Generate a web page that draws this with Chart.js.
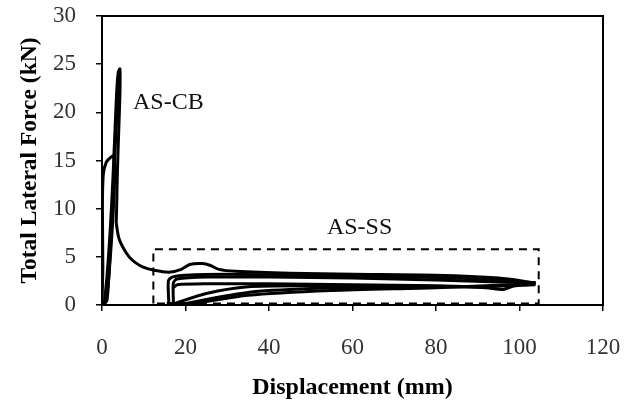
<!DOCTYPE html>
<html>
<head>
<meta charset="utf-8">
<script src="https://cdn.jsdelivr.net/npm/chart.js@4.4.1/dist/chart.umd.min.js"></script>
<style>
  html, body { margin: 0; padding: 0; background: #fff; }
  #wrap { width: 624px; height: 410px; }
</style>
</head>
<body>
<div id="wrap"><canvas id="chart"></canvas></div>
<script>
// axis ticks
const xTicks = [0, 20, 40, 60, 80, 100, 120];
const yTicks = [0, 5, 10, 15, 20, 25, 30];

// AS-CB cycles [displacement mm, force kN]
const cbCycle1 = [[0, 0], [0.2, 4], [0.1, 10], [0.3, 13.5], [1, 14.8], [2, 15.3], [2.8, 15.5], [3, 13], [2.6, 9], [2, 5], [1.3, 1.5], [0.6, 0], [0.2, 0]];
const cbCycle2 = [[0.5, 0], [1.2, 3], [2, 8], [2.6, 13], [3.1, 18], [3.5, 22], [3.9, 24.2], [4.3, 24.5], [4.3, 22], [4, 18], [3.7, 14], [3.5, 10], [3.4, 8.5]];
const cbCycle3 = [[4, 24.3], [3.6, 20], [3, 15], [2.5, 10], [1.9, 5], [1.2, 0.5], [0.3, 0]];
const cbTail = [[3.4, 8.5], [4, 7], [5, 6], [6.5, 5], [8, 4.4], [10, 3.9], [12.5, 3.6], [16, 3.4], [19, 3.7], [21, 4.2], [24, 4.3], [26, 4.1], [28, 3.7], [32, 3.5], [45, 3.3], [60, 3.2], [80, 3.1], [95, 2.8], [103.8, 2.3]];

// AS-SS cycles
const ssUpper1 = [[16, 0.2], [15.9, 2.5], [16.8, 2.9], [20, 3.1], [30, 3.2], [45, 3.1], [60, 3.0], [75, 2.9], [90, 2.7], [103.8, 2.3]];
const ssUpper2 = [[17.1, 0.2], [17.1, 2.3], [18, 2.7], [25, 2.9], [40, 2.9], [60, 2.8], [80, 2.6], [95, 2.4], [103.8, 2.3]];
const ssLower1 = [[103.8, 2.3], [98, 1.9], [96, 1.6], [92, 1.8], [80, 2.0], [60, 2.1], [40, 2.2], [25, 2.2], [18, 2.1], [17.1, 1.8]];
const ssLower2 = [[17, 0.1], [25, 1.2], [35, 1.9], [50, 2.0], [70, 2.0], [90, 1.9], [103.8, 2.2]];
const ssLower3 = [[19, 0.1], [35, 1.3], [50, 1.7], [70, 1.9], [90, 1.9], [103.8, 2.1]];
const ssLower4 = [[20, 0], [35, 1.0], [55, 1.5], [80, 1.8], [103.8, 2.2]];
const ssBase = [[15.5, 0.15], [21, 0.15]];

// dashed box round the AS-SS group
const boxX = [12.3, 104.6];
const boxY = [0.15, 5.8];

const labels = [
  { text: 'AS-CB', x: 15.9, y: 21 },
  { text: 'AS-SS', x: 61.7, y: 8 },
];

const toPts = (arr) => arr.map(([x, y]) => ({ x, y }));

const curves = [cbCycle1, cbCycle2, cbCycle3, cbTail, ssUpper1, ssUpper2, ssLower1, ssLower2, ssLower3, ssLower4, ssBase];

const datasets = curves.map((c) => ({
  data: toPts(c),
  showLine: true,
  borderColor: '#000',
  borderWidth: 3,
  pointRadius: 0,
  tension: 0.25,
  fill: false,
}));

datasets.push({
  data: toPts([[boxX[0], boxY[0]], [boxX[0], boxY[1]], [boxX[1], boxY[1]], [boxX[1], boxY[0]], [boxX[0], boxY[0]]]),
  showLine: true,
  borderColor: '#000',
  borderWidth: 2,
  borderDash: [8, 6],
  pointRadius: 0,
  tension: 0,
  fill: false,
});

const frame = {
  id: 'frame',
  afterDatasetsDraw(chart) {
    const { ctx, chartArea: a, scales } = chart;
    ctx.save();
    ctx.strokeStyle = '#000';
    ctx.lineWidth = 2;
    ctx.strokeRect(a.left, a.top, a.right - a.left, a.bottom - a.top);
    ctx.fillStyle = '#111';
    ctx.font = '24px "Liberation Serif", "Times New Roman", serif';
    ctx.textAlign = 'center';
    ctx.textBaseline = 'middle';
    labels.forEach((l) => {
      ctx.fillText(l.text, scales.x.getPixelForValue(l.x), scales.y.getPixelForValue(l.y));
    });
    ctx.restore();
  },
};

const serif = '"Liberation Serif", "Times New Roman", serif';

new Chart(document.getElementById('chart'), {
  type: 'scatter',
  data: { datasets },
  plugins: [frame],
  options: {
    responsive: true,
    maintainAspectRatio: false,
    animation: false,
    layout: { padding: 0 },
    plugins: { legend: false, tooltip: { enabled: false } },
    scales: {
      x: {
        type: 'linear',
        min: 0,
        max: 120,
        afterBuildTicks: (s) => { s.ticks = xTicks.map((v) => ({ value: v })); },
        afterFit: (s) => { s.height = 105; s.paddingRight = 21; s.paddingLeft = 0; },
        border: { color: '#000', width: 2 },
        grid: { drawOnChartArea: false, drawTicks: true, tickLength: 6, color: '#000', lineWidth: 1.5 },
        ticks: { color: '#333', padding: 23, font: { family: serif, size: 23 } },
        title: {
          display: true,
          text: 'Displacement (mm)',
          color: '#000',
          padding: { top: 0, bottom: 8 },
          font: { family: serif, size: 24, weight: 'bold' },
        },
      },
      y: {
        type: 'linear',
        min: 0,
        max: 30,
        afterBuildTicks: (s) => { s.ticks = yTicks.map((v) => ({ value: v })); },
        afterFit: (s) => { s.width = 102; s.paddingTop = 16; s.paddingBottom = 0; },
        border: { color: '#000', width: 2 },
        grid: { drawOnChartArea: false, drawTicks: true, tickLength: 6, color: '#000', lineWidth: 1.5 },
        ticks: { color: '#333', padding: 20, font: { family: serif, size: 23 } },
        title: {
          display: true,
          text: 'Total Lateral Force (kN)',
          color: '#000',
          padding: { top: 16, bottom: 0 },
          font: { family: serif, size: 23.5, weight: 'bold' },
        },
      },
    },
  },
});
</script>
</body>
</html>
